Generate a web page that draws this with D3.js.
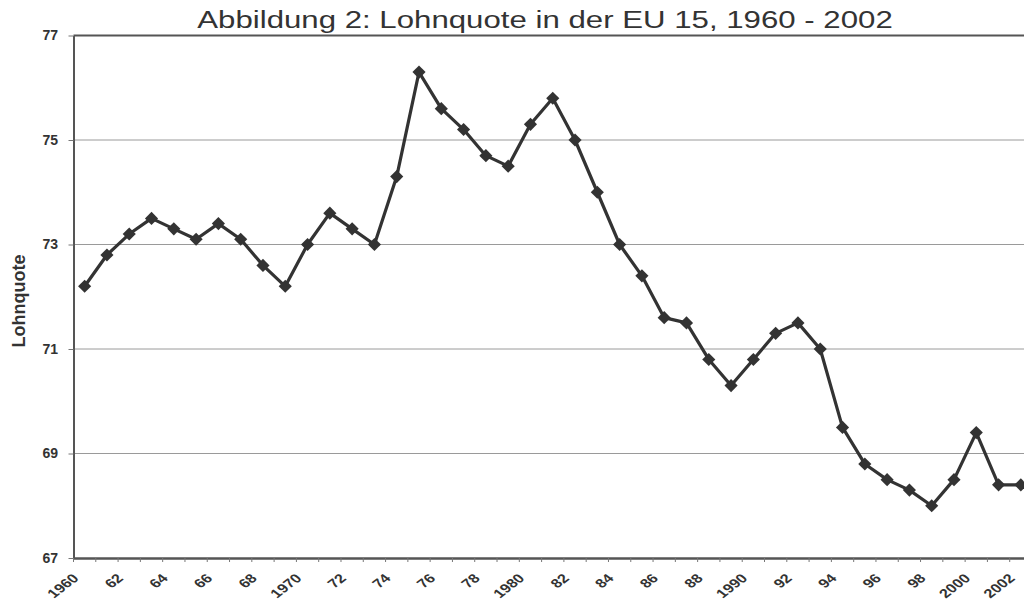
<!DOCTYPE html>
<html>
<head>
<meta charset="utf-8">
<script src="https://cdn.jsdelivr.net/npm/d3@7"></script>
<style>
  html, body { margin: 0; padding: 0; background: #ffffff; }
  svg { display: block; }
</style>
</head>
<body>
<svg id="chart" width="1024" height="600"></svg>
<script>
const years = d3.range(1960, 2003);
const values = [72.2, 72.8, 73.2, 73.5, 73.3, 73.1, 73.4, 73.1, 72.6, 72.2,
                73.0, 73.6, 73.3, 73.0, 74.3, 76.3, 75.6, 75.2, 74.7, 74.5,
                75.3, 75.8, 75.0, 74.0, 73.0, 72.4, 71.6, 71.5, 70.8, 70.3,
                70.8, 71.3, 71.5, 71.0, 69.5, 68.8, 68.5, 68.3, 68.0, 68.5,
                69.4, 68.4, 68.4];
const yTicks = [67, 69, 71, 73, 75, 77];
const xTickLabels = ["1960","62","64","66","68","1970","72","74","76","78","1980",
                     "82","84","86","88","1990","92","94","96","98","2000","2002"];
const titleText = "Abbildung 2: Lohnquote in der EU 15, 1960 - 2002";
const yTitle = "Lohnquote";

const svg = d3.select("#chart");
const pLeft = 73.5, pRight = 1032, pTop = 35.5, pBottom = 558;
const ink = "#333333";
const font = "Liberation Sans, Arial, sans-serif";

const x = d3.scaleBand().domain(years).range([pLeft, pRight]).padding(0);
const cx = d => x(d) + x.bandwidth() / 2;
const y = d3.scaleLinear().domain([67, 77]).range([pBottom, pTop]);

// gridlines
svg.append("g").selectAll("line").data(yTicks.filter(t => t > 67 && t < 77)).join("line")
  .attr("x1", pLeft).attr("x2", pRight)
  .attr("y1", d => y(d)).attr("y2", d => y(d))
  .attr("stroke", "#9a9a9a").attr("stroke-width", 1);

// top border
svg.append("line").attr("x1", pLeft).attr("x2", pRight).attr("y1", pTop).attr("y2", pTop)
  .attr("stroke", "#555").attr("stroke-width", 2);

// Y axis
const yAxis = svg.append("g").attr("transform", `translate(${pLeft},0)`)
  .call(d3.axisLeft(y).tickValues(yTicks).tickSize(5).tickSizeOuter(0).tickFormat(d3.format("d")));
yAxis.select(".domain").attr("stroke", "#555").attr("stroke-width", 2);
yAxis.selectAll(".tick line").attr("stroke", "#777");
yAxis.selectAll(".tick text")
  .attr("x", -15.5)
  .attr("font-family", font)
  .attr("font-size", 14).attr("font-weight", "bold").attr("fill", ink);

// X axis
const xAxis = svg.append("g").attr("transform", `translate(0,${pBottom})`)
  .call(d3.axisBottom(x).tickSize(0).tickSizeOuter(0).tickFormat(""));
xAxis.select(".domain").attr("stroke", "#555").attr("stroke-width", 2.5);
xAxis.selectAll(".tick").remove();
// category boundary tick marks
svg.append("g").selectAll("line").data(years).join("line")
  .attr("x1", d => x(d)).attr("x2", d => x(d))
  .attr("y1", pBottom).attr("y2", pBottom + 4)
  .attr("stroke", "#777").attr("stroke-width", 1);

// x tick labels (every second year)
const labelYears = years.filter((d, i) => i % 2 === 0);
svg.append("g").selectAll("text").data(labelYears).join("text")
  .attr("transform", d => `translate(${cx(d) - 5},${pBottom + 21}) scale(1.3,1) rotate(-45)`)
  .attr("text-anchor", "end")
  .attr("font-family", font)
  .attr("font-size", 12.5).attr("font-weight", "bold").attr("fill", ink)
  .text((d, i) => xTickLabels[i]);

// line
const line = d3.line().x((d, i) => cx(years[i])).y(d => y(d));
svg.append("path").datum(values)
  .attr("d", line).attr("fill", "none")
  .attr("stroke", ink).attr("stroke-width", 3.2).attr("stroke-linejoin", "round");

// diamond markers
svg.append("g").selectAll("path").data(values).join("path")
  .attr("transform", (d, i) => `translate(${cx(years[i])},${y(d)})`)
  .attr("d", d3.symbol().type(d3.symbolDiamond2).size(110))
  .attr("fill", ink);

// title
svg.append("text")
  .attr("transform", "translate(545,28) scale(1.3,1)")
  .attr("text-anchor", "middle")
  .attr("font-family", font)
  .attr("font-size", 24).attr("fill", ink)
  .text(titleText);

// Y axis title
svg.append("text")
  .attr("transform", `translate(25,301) rotate(-90)`)
  .attr("text-anchor", "middle")
  .attr("font-family", font)
  .attr("font-size", 18).attr("font-weight", "bold").attr("fill", ink)
  .text(yTitle);
</script>
</body>
</html>
